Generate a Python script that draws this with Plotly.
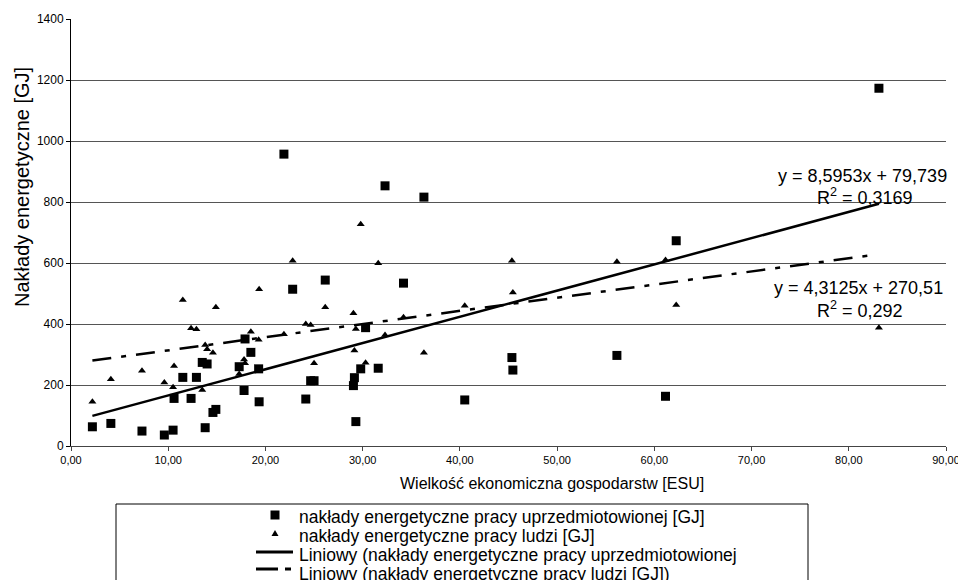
import plotly.graph_objects as go

# ---------------- data ----------------
farm_size_esu = [2.2, 4.1, 7.3, 9.6, 10.5, 10.6, 11.5, 12.35, 12.9, 13.5, 13.8, 14.0,
                 14.6, 14.9, 17.3, 17.8, 17.9, 18.5, 19.3, 19.35, 21.9, 22.8, 24.15,
                 24.65, 25.0, 26.15, 29.05, 29.15, 29.3, 29.8, 30.3, 31.6, 32.3, 34.2,
                 36.3, 40.5, 45.35, 45.45, 56.15, 61.15, 62.25, 83.1]

energy_embodied_gj = [63, 74, 49, 36, 52, 156, 225, 156, 225, 274, 60, 269,
                      110, 120, 260, 182, 351, 307, 253, 145, 957, 514, 154,
                      214, 214, 544, 198, 224, 80, 253, 388, 255, 853, 534,
                      816, 151, 290, 249, 297, 163, 673, 1173]

energy_human_gj = [145, 219, 247, 208, 193, 262, 479, 386, 383, 184, 331, 317,
                   306, 455, 236, 284, 271, 375, 348, 514, 366, 607, 400,
                   397, 271, 455, 435, 313, 384, 727, 273, 599, 364, 422,
                   306, 460, 607, 503, 604, 610, 462, 388]

trend_embodied_slope, trend_embodied_intercept = 8.5953, 79.739
trend_human_slope, trend_human_intercept = 4.3125, 270.51

eq_embodied_text = ["y = 8,5953x + 79,739", "R<sup>2</sup> = 0,3169"]
eq_human_text = ["y = 4,3125x + 270,51", "R<sup>2</sup> = 0,292"]

x_tick_vals = [0, 10, 20, 30, 40, 50, 60, 70, 80, 90]
x_tick_labels = ["0,00", "10,00", "20,00", "30,00", "40,00", "50,00",
                 "60,00", "70,00", "80,00", "90,00"]
y_tick_vals = [0, 200, 400, 600, 800, 1000, 1200, 1400]
y_tick_labels = ["0", "200", "400", "600", "800", "1000", "1200", "1400"]

x_title = "Wielkość ekonomiczna gospodarstw [ESU]"
y_title = "Nakłady energetyczne [GJ]"
legend_labels = [
    "nakłady energetyczne pracy uprzedmiotowionej [GJ]",
    "nakłady energetyczne pracy ludzi [GJ]",
    "Liniowy (nakłady energetyczne pracy uprzedmiotowionej",
    "Liniowy (nakłady energetyczne pracy ludzi [GJ])",
]

# ---------------- layout geometry ----------------
# The page body adds an 8 px margin, so the figure is 8 px smaller and the
# helper functions below map page pixels to paper coordinates.
OFF = 8
W, H = 966 - OFF, 580 - OFF
L, R, T, B = 71 - OFF, 20, 19 - OFF, 134
PW, PH = W - L - R, H - T - B
FONT = "Liberation Sans, Arial, Helvetica, sans-serif"


def px_x(px):
    return (px - OFF - L) / PW


def px_y(py):
    return (H - B - (py - OFF)) / PH


x_lo, x_hi = min(farm_size_esu), max(farm_size_esu)

fig = go.Figure()

fig.add_trace(go.Scatter(
    x=farm_size_esu, y=energy_embodied_gj, mode="markers",
    name=legend_labels[0], showlegend=False,
    marker=dict(symbol="square", size=9, color="black"),
))
fig.add_trace(go.Scatter(
    x=farm_size_esu, y=energy_human_gj, mode="markers",
    name=legend_labels[1], showlegend=False,
    marker=dict(symbol="triangle-up", size=7, color="black"),
))
fig.add_trace(go.Scatter(
    x=[x_lo, x_hi],
    y=[trend_embodied_slope * v + trend_embodied_intercept for v in (x_lo, x_hi)],
    mode="lines", name=legend_labels[2], showlegend=False,
    line=dict(color="black", width=2.5),
))
fig.add_trace(go.Scatter(
    x=[x_lo, x_hi - 1.0],
    y=[trend_human_slope * v + trend_human_intercept for v in (x_lo, x_hi - 1.0)],
    mode="lines", name=legend_labels[3], showlegend=False,
    line=dict(color="black", width=2.5, dash="19px,10px,5px,10px"),
))

annotations = []
# regression equations
annotations.append(dict(x=px_x(862), y=px_y(176), text=eq_embodied_text[0]))
annotations.append(dict(x=px_x(865), y=px_y(196), text=eq_embodied_text[1]))
annotations.append(dict(x=px_x(858), y=px_y(288), text=eq_human_text[0]))
annotations.append(dict(x=px_x(860), y=px_y(309), text=eq_human_text[1]))
for a in annotations:
    a.update(xref="paper", yref="paper", showarrow=False, xanchor="center",
             yanchor="middle", font=dict(size=18, color="black", family=FONT))

# axis titles
annotations.append(dict(x=px_x(398), y=px_y(483), xref="paper", yref="paper",
                        text=x_title, showarrow=False, xanchor="left", yanchor="middle",
                        font=dict(size=16, color="black", family=FONT)))
annotations.append(dict(x=px_x(22), y=px_y(187), xref="paper", yref="paper",
                        text=y_title, showarrow=False, textangle=-90,
                        xanchor="center", yanchor="middle",
                        font=dict(size=20, color="black", family=FONT)))

# legend texts
legend_text_y = [517, 536, 555, 574]
for lbl, ty in zip(legend_labels, legend_text_y):
    annotations.append(dict(x=px_x(297), y=px_y(ty), xref="paper", yref="paper",
                            text=lbl, showarrow=False, xanchor="left", yanchor="middle",
                            font=dict(size=17.5, color="black", family=FONT)))

shapes = []
# legend frame
shapes.append(dict(type="rect", xref="paper", yref="paper",
                   x0=px_x(116), x1=px_x(808), y0=px_y(504), y1=px_y(640),
                   line=dict(color="black", width=1), fillcolor="rgba(0,0,0,0)"))
# legend symbols
shapes.append(dict(type="rect", xref="paper", yref="paper",
                   x0=px_x(270.5), x1=px_x(279.5), y0=px_y(519.5), y1=px_y(510.5),
                   line=dict(width=0), fillcolor="black"))
tri = "M {:.5f},{:.5f} L {:.5f},{:.5f} L {:.5f},{:.5f} Z".format(
    px_x(271.5), px_y(536), px_x(278.5), px_y(536), px_x(275), px_y(530))
shapes.append(dict(type="path", xref="paper", yref="paper", path=tri,
                   line=dict(width=0), fillcolor="black"))
shapes.append(dict(type="line", xref="paper", yref="paper",
                   x0=px_x(256), x1=px_x(293), y0=px_y(552), y1=px_y(552),
                   line=dict(color="black", width=3)))
shapes.append(dict(type="line", xref="paper", yref="paper",
                   x0=px_x(256), x1=px_x(291), y0=px_y(569), y1=px_y(569),
                   line=dict(color="black", width=3, dash="22px,7px,6px,10px")))

fig.update_layout(
    width=W, height=H,
    margin=dict(l=L, r=R, t=T, b=B, pad=0, autoexpand=False),
    paper_bgcolor="white", plot_bgcolor="white",
    font=dict(family=FONT, color="black"),
    annotations=annotations, shapes=shapes,
    showlegend=False,
)
fig.update_xaxes(
    range=[0, 90], tickmode="array", tickvals=x_tick_vals, ticktext=x_tick_labels,
    ticks="outside", ticklen=4, tickcolor="#444", showgrid=False, zeroline=False,
    showline=True, linecolor="#444", linewidth=1, automargin=False,
    tickfont=dict(size=11, color="black", family=FONT),
)
fig.update_yaxes(
    range=[0, 1400], tickmode="array", tickvals=y_tick_vals, ticktext=y_tick_labels,
    ticks="outside", ticklen=4, tickcolor="black", showgrid=True, gridcolor="#555",
    gridwidth=1, zeroline=False, showline=True, linecolor="black", linewidth=1,
    automargin=False,
    tickfont=dict(size=12, color="black", family=FONT),
)

fig.write_html("out.html")
